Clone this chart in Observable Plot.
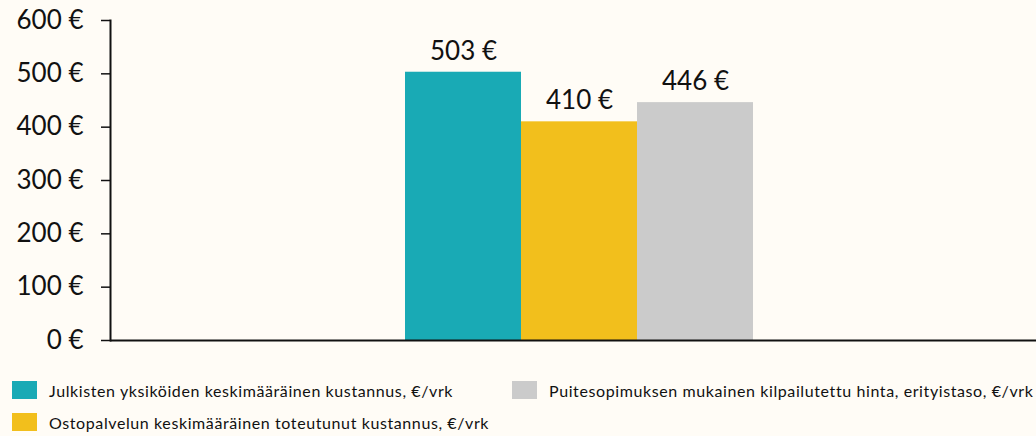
<!DOCTYPE html>
<html>
<head>
<meta charset="utf-8">
<script src="https://cdn.jsdelivr.net/npm/d3@7"></script>
<script src="https://cdn.jsdelivr.net/npm/@observablehq/plot@0.6"></script>
<style>
  html, body { margin: 0; padding: 0; background: #fffcf6; }
  body { width: 1036px; height: 436px; overflow: hidden; font-family: Lato, "Open Sans", sans-serif; color: #111; }
  #legend { display: grid; grid-template-columns: 500px 524px; row-gap: 14px; margin-top: 21px; padding-left: 12px; }
  .item { display: flex; align-items: center; height: 18px; font-size: 16px; letter-spacing: 0.6px; white-space: nowrap; }
  .sw { width: 25px; height: 18px; margin-right: 12px; flex: none; }
</style>
</head>
<body>
<div id="chart"></div>
<div id="legend"></div>
<script>
const series = [
  "Julkisten yksiköiden keskimääräinen kustannus, €/vrk",
  "Ostopalvelun keskimääräinen toteutunut kustannus, €/vrk",
  "Puitesopimuksen mukainen kilpailutettu hinta, erityistaso, €/vrk"
];
const values = [503, 410, 446];
const colors = ["#19aab5", "#f2bf1c", "#cbcbcb"];
const yTicks = [0, 100, 200, 300, 400, 500, 600];
const legendOrder = [0, 2, 1];

const data = series.map((s, i) => ({series: s, value: values[i]}));

const chart = Plot.plot({
  width: 1036,
  height: 360,
  marginLeft: 110,
  marginRight: 0,
  marginTop: 20,
  marginBottom: 20,
  style: {background: "transparent", fontFamily: "Lato, 'Open Sans', sans-serif", color: "#111"},
  x: {domain: series, paddingInner: 0, paddingOuter: 2.47, align: 0.51, axis: null},
  y: {domain: [0, 600], ticks: yTicks, tickFormat: d => d + " €", tickSize: 9, tickPadding: 18, label: null},
  color: {domain: series, range: colors},
  marks: [
    Plot.barY(data, {x: "series", y: "value", fill: "series", inset: 0}),
    Plot.text(data, {x: "series", y: "value", text: d => d.value + " €", dy: -21, fontSize: 26, fill: "#111"}),
    Plot.axisY({ticks: yTicks, tickFormat: d => d + " €", tickSize: 9, tickPadding: 18, fontSize: 26, stroke: "#111", strokeWidth: 1.5, label: null}),
    Plot.ruleY([0], {stroke: "#111", strokeWidth: 2}),
    Plot.frame({anchor: "left", stroke: "#111", strokeWidth: 2})
  ]
});
document.getElementById("chart").appendChild(chart);

const legend = document.getElementById("legend");
legendOrder.forEach(i => {
  const item = document.createElement("div");
  item.className = "item";
  const sw = document.createElement("span");
  sw.className = "sw";
  sw.style.background = colors[i];
  const t = document.createElement("span");
  t.textContent = series[i];
  item.appendChild(sw);
  item.appendChild(t);
  legend.appendChild(item);
});
</script>
</body>
</html>
